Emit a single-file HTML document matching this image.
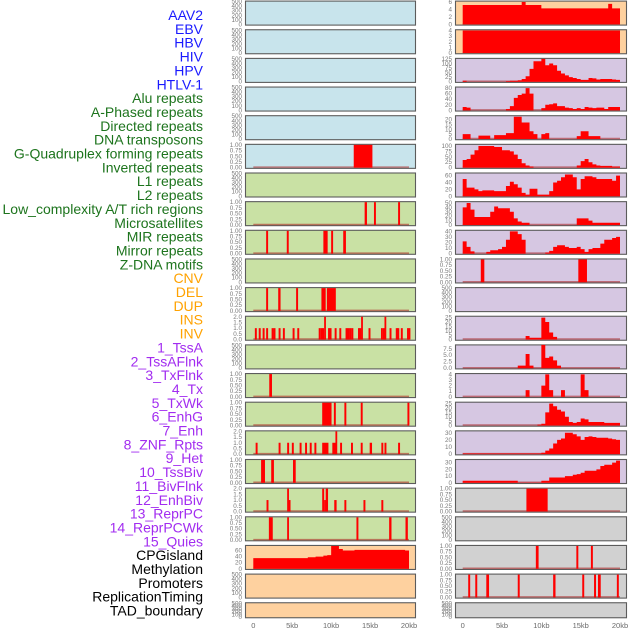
<!DOCTYPE html>
<html><head><meta charset="utf-8"><style>
html,body{margin:0;padding:0;background:#fff;width:630px;height:630px;overflow:hidden}
svg{display:block}
</style></head><body>
<svg id="chart" width="630" height="630" xmlns="http://www.w3.org/2000/svg" font-family="Liberation Sans, sans-serif"></svg>
<script>
const labels = ["AAV2","EBV","HBV","HIV","HPV","HTLV-1","Alu repeats","A-Phased repeats","Directed repeats","DNA transposons","G-Quadruplex forming repeats","Inverted repeats","L1 repeats","L2 repeats","Low_complexity A/T rich regions","Microsatellites","MIR repeats","Mirror repeats","Z-DNA motifs","CNV","DEL","DUP","INS","INV","1_TssA","2_TssAFlnk","3_TxFlnk","4_Tx","5_TxWk","6_EnhG","7_Enh","8_ZNF_Rpts","9_Het","10_TssBiv","11_BivFlnk","12_EnhBiv","13_ReprPC","14_ReprPCWk","15_Quies","CPGisland","Methylation","Promoters","ReplicationTiming","TAD_boundary"];
const labelGroups = ["v","v","v","v","v","v","r","r","r","r","r","r","r","r","r","r","r","r","r","c","c","c","c","c","h","h","h","h","h","h","h","h","h","h","h","h","h","h","h","o","o","o","o","o"];
const xTicks = [0,5,10,15,20];
const xTickLabels = ["0","5kb","10kb","15kb","20kb"];
// Tick sets
const ticksEmpty = [0,100,200,300,400,500];
const ticksUnit = [0,0.25,0.5,0.75,1];
const ticksTwo = [0,0.5,1,1.5,2];
// Left column line/event tracks: [startKb, endKb, value]
const evHTLV = [[12.9,15.3,1]];
const evAPhased = [[14.3,14.6,1],[15.5,15.75,1],[18.6,18.85,1]];
const evDirected = [[1.65,1.9,1],[4.3,4.55,1],[9.0,9.55,1],[10.0,10.25,1],[11.55,11.9,1]];
const evGQuad = [[1.65,1.9,1],[3.2,3.5,1],[5.5,5.75,1],[8.75,9.3,1],[9.45,10.6,1]];
const evInverted = [[0.2,0.45,1],[0.7,0.95,1],[1.2,1.45,1],[1.65,1.9,1],[2.35,2.6,1],[2.6,2.85,1],[3.25,3.5,1],[3.8,4.05,1],[5.05,5.3,1],[5.65,5.9,1],[8.4,8.65,1],[8.65,8.9,1],[8.85,9.1,1],[9.1,9.3,2],[9.6,9.85,1],[9.8,10.05,1],[10.45,10.7,1],[11.05,11.3,1],[11.85,12.1,1],[12.1,12.35,1],[12.35,12.6,1],[12.6,12.85,1],[13.45,13.7,1],[13.65,13.85,1],[13.85,14.05,2],[14.8,15.05,1],[16.4,16.65,1],[16.65,16.85,1],[16.85,17.05,2],[17.5,17.75,1],[18.3,18.55,1],[18.5,18.75,1],[18.95,19.2,1],[19.75,19.95,1],[19.95,20.15,1]];
const evL2 = [[2.05,2.4,1]];
const evLowCx = [[8.85,10.05,1],[10.35,10.6,1],[11.7,11.95,1],[13.8,14.05,1],[19.8,20.05,1]];
const evMicro = [[0.3,0.55,1],[3.25,3.5,1],[4.35,4.6,1],[4.95,5.2,1],[5.95,6.2,1],[6.65,6.9,1],[7.25,7.5,1],[7.85,8.1,1],[8.85,9.65,1],[10.15,10.7,1],[10.55,10.75,2],[11.15,11.4,1],[12.55,12.8,1],[13.8,14.05,1],[14.95,15.25,1],[16.45,16.7,1],[16.85,17.1,1],[18.6,18.85,1]];
const evMIR = [[1.0,1.5,1],[2.3,2.65,1],[5.1,5.45,1]];
const evMirror = [[1.7,1.95,1],[4.35,4.55,2],[4.55,4.7,1],[8.85,9.1,2],[9.1,9.3,1],[9.3,9.6,2],[10.4,10.7,1],[11.7,11.95,1],[14.15,14.4,1],[16.45,16.7,1]];
const evZDNA = [[2.0,2.5,1],[4.35,4.55,1],[13.25,13.5,1],[17.45,17.75,1],[19.55,19.85,1]];
// Right column event tracks
const evZNF = [[2.3,2.75,1],[14.7,15.8,1]];
const evCpG = [[8.1,10.8,1]];
const evPromoters = [[9.3,9.65,1],[14.45,14.7,1],[16.3,16.55,1]];
const evRepTiming = [[0.7,0.95,1],[1.6,1.85,1],[3.0,3.35,1],[7.0,7.25,1],[11.5,11.8,1],[15.2,15.45,1],[16.7,16.95,1],[17.2,17.55,1],[19.6,19.85,1]];
// Area tracks: values per 0.5kb bin (40 bins, 0-20kb)
const areaCNV = [35,35,35,35,35,35,35,35,35,35,35,35,35,35,38,38,40,40,43,45,75,75,65,60,60,60,62,62,62,62,62,62,62,62,62,62,62,62,62,60];
const areaINS = [5.2,5.2,5.2,5.2,5.2,5.2,5.2,5.2,5.2,5.2,5.2,5.2,5.2,5.2,5.2,6,5.2,5.2,5.2,5.2,4.3,4.3,4.3,4.3,4.3,4.3,4.3,4.3,4.3,4.3,4.3,4.3,4.3,4.3,4.3,4.3,4.3,5.5,4.3,4.3];
const areaINV = [4,4,4,4,4,4,4,4,4,4,4,4,4,4,4,4,4,4,4,4,4,4,4,4,4,4,4,4,4,4,4,4,4,4,4,4,4,4,4,4];
const areaTssA = [5,0,0,0,0,0,0,0,0,0,0,3,5,5,8,15,30,70,112,112,125,90,100,90,60,45,35,25,20,15,10,10,20,18,12,15,15,15,12,10];
const areaTssAFlnk = [12,10,0,0,0,0,0,0,0,0,0,5,15,45,55,60,80,60,0,0,8,20,22,25,15,15,10,8,5,8,5,12,10,8,10,10,5,12,12,12];
const areaTxFlnk = [5,5,0,0,3.5,3.5,3.5,0,4,4,4,6,6,23,23,17,17,8,5,0,5,6,0,0,0,0,0,0,0,3,8,8,3,3,3,0,0,0,0,0];
const areaTx = [35,40,60,80,100,100,100,100,95,95,80,80,75,60,40,20,10,5,0,0,0,0,0,0,0,0,0,0,0,10,30,40,25,15,10,8,8,8,5,5];
const areaTxWk = [50,25,25,20,15,17,17,17,15,15,15,30,42,35,25,10,5,22,22,5,5,5,15,40,45,55,63,63,55,20,50,58,58,55,50,50,50,50,45,60];
const areaEnhG = [40,50,35,18,18,18,18,30,42,38,38,38,30,15,8,5,5,0,0,0,0,0,0,0,0,0,0,0,0,15,15,15,10,5,5,5,5,5,5,5];
const areaEnh = [22,12,4,0,0,0,3,6,6,8,12,25,40,40,35,25,0,0,0,0,0,2,5,12,15,15,12,10,10,12,8,3,8,10,10,18,25,25,28,30];
const areaTssBiv = [0,0,0,0,0,0,0,0,0,0,0,0,0,0,0,0,4,2,2,2,25,20,8,3,0,0,0,0,0,0,0,0,0,0,0,0,0,0,0,0];
const areaBivFlnk = [0,0,0,0,0,0,0,0,0,0,0,0,0,0,1,1,5.5,1,0,0,9,4,4.5,3,1,0,0,0,0,0,0,0,0,0,0,0,0,0,0,0];
const areaEnhBiv = [0,0,0,0,0,0,0,0,0,0,0,0,0,0,0,0,1.2,0,0,0,2,4,1.2,0,0,1.2,0,0,0,0,4,1.2,0,0,0,0,0,0,0,0];
const areaReprPC = [0,0,0,0,0,0,0,0,0,0,0,0,0,0,0,0,0,0,0,1,2,15,25,22,18,16,10,4,3,4,8,7,4,4,4,4,3,3,3,3];
const areaReprPCWk = [1,1,1,1,1,1,1,1,1,1,1,1,1,1,1,1,1,1,1,1,2,5,8,15,20,22,30,30,28,25,20,24,25,24,23,23,23,22,21,20];
const areaQuies = [3,3,3,3,3,3,3,3,3,3,3,3,3,3,0.5,0.5,0.5,0.5,0.5,0.5,3,3,8,8,8,8,10,10,12,13,15,18,18,18,20,25,27,27,30,33];

const bg = {v:"#c8e4ec",r:"#c9e1a4",c:"#fed19f",h:"#d6c7e2",o:"#d1d1d1"};
const labelColor = {v:"#1a1aff",r:"#1d741d",c:"#ffa200",h:"#a22cf0",o:"#000"};

// panel specs: [col,row,group,kind,data,max,ticks,tickLabels]
function fmt(t,d){return t.toFixed(d);}
const panels = [
 [0,0,"v","empty"],[0,1,"v","empty"],[0,2,"v","empty"],[0,3,"v","empty"],[0,4,"v","empty"],
 [0,5,"v","ev",evHTLV,"unit"],
 [0,6,"r","empty"],[0,7,"r","ev",evAPhased,"unit"],[0,8,"r","ev",evDirected,"unit"],[0,9,"r","empty"],
 [0,10,"r","ev",evGQuad,"unit"],[0,11,"r","ev",evInverted,"two"],[0,12,"r","empty"],[0,13,"r","ev",evL2,"unit"],
 [0,14,"r","ev",evLowCx,"unit"],[0,15,"r","ev",evMicro,"two"],[0,16,"r","ev",evMIR,"unit"],[0,17,"r","ev",evMirror,"two"],
 [0,18,"r","ev",evZDNA,"unit"],
 [0,19,"c","area",areaCNV,75,[0,20,40,60],0],[0,20,"c","empty"],[0,21,"c","empty"],
 [1,0,"c","area",areaINS,6.1,[0,2,4,6],0],[1,1,"c","area",areaINV,4.05,[0,1,2,3,4],0],
 [1,2,"h","area",areaTssA,125,[0,25,50,75,100,125],0],[1,3,"h","area",areaTssAFlnk,82,[0,20,40,60,80],0],
 [1,4,"h","area",areaTxFlnk,23.5,[0,5,10,15,20],0],[1,5,"h","area",areaTx,105,[0,25,50,75,100],0],
 [1,6,"h","area",areaTxWk,66,[0,20,40,60],0],[1,7,"h","area",areaEnhG,52,[0,10,20,30,40,50],0],
 [1,8,"h","area",areaEnh,41,[0,10,20,30,40],0],[1,9,"h","ev",evZNF,"unit"],[1,10,"h","empty"],
 [1,11,"h","area",areaTssBiv,26,[0,5,10,15,20,25],0],[1,12,"h","area",areaBivFlnk,8.8,[0,2.5,5,7.5],1],
 [1,13,"h","area",areaEnhBiv,4.05,[0,1,2,3,4],0],[1,14,"h","area",areaReprPC,26,[0,5,10,15,20,25],0],
 [1,15,"h","area",areaReprPCWk,32,[0,10,20,30],0],[1,16,"h","area",areaQuies,34,[0,10,20,30],0],
 [1,17,"o","ev",evCpG,"unit"],[1,18,"o","empty"],[1,19,"o","ev",evPromoters,"unit"],[1,20,"o","ev",evRepTiming,"unit"],[1,21,"o","empty"]
];
const cols = [{x0:245,x1:416,k0:253.3,k20:409},{x0:455,x1:627,k0:462.7,k20:620}];
const svg = document.getElementById('chart');
const NS = "http://www.w3.org/2000/svg";
function mk(tag,attrs,parent){const e=document.createElementNS(NS,tag);for(const k in attrs)e.setAttribute(k,attrs[k]);(parent||svg).appendChild(e);return e;}

// labels
labels.forEach((t,i)=>{
  const e = mk('text',{x:203,y:(20+i*13.85).toFixed(1),'text-anchor':'end','font-size':'14',fill:labelColor[labelGroups[i]]});
  
  
  e.textContent = t;
});

panels.forEach(p=>{
  const [ci,row,grp,kind] = p;
  const c = cols[ci];
  const top = 0.6 + row*28.65;
  const h = row===21 ? 16 : 25;
  const g = mk('g',{});
  
  
  const r = mk('rect',{x:c.x0+0.5,y:top+0.5,width:c.x1-c.x0-1,height:h-1,fill:bg[grp],stroke:"#5c5c5c",'stroke-width':1.1},g);
  
  
  const y0 = top + h - 1.2, y1 = top + 1;
  let max, ticks, tl;
  if(kind==="empty"){max=500;ticks=ticksEmpty;tl=ticks.map(String);}
  else if(kind==="ev"){ if(p[5]==="two"){max=2;ticks=ticksTwo;tl=ticks.map(t=>fmt(t,1));} else {max=1;ticks=ticksUnit;tl=ticks.map(t=>fmt(t,2));} }
  else {max=p[5];ticks=p[6];tl=ticks.map(t=>p[7]?fmt(t,1):String(t));}
  const ys = v => y0 - (v/max)*(y0-y1);
  const xs = k => c.k0 + (k/20)*(c.k20-c.k0);
  ticks.forEach((t,i)=>{
    const e = mk('text',{x:c.x0-3,y:(ys(t)+2).toFixed(1),'text-anchor':'end','font-size':'6.3',fill:'#7a7a7a'},g);
    
    
    e.textContent = tl[i];
  });
  if(kind!=="empty"){
    const bl = mk('line',{x1:xs(0),x2:xs(20),y1:y0-0.5,y2:y0-0.5,stroke:'rgba(170,30,30,0.55)','stroke-width':1.5},g);
    
    
  }
  if(kind==="ev"){
    p[4].forEach(ev=>{
      const b = mk('rect',{x:xs(ev[0]).toFixed(2),y:ys(ev[2]).toFixed(2),width:Math.max(1.8,xs(ev[1])-xs(ev[0])).toFixed(2),height:(y0-ys(ev[2])).toFixed(2),fill:'#ff0000'},g);
      
      
    });
  } else if(kind==="area"){
    const vals = p[4];
    let d = `M${xs(0).toFixed(2)},${y0}`;
    vals.forEach((v,i)=>{
      d += ` L${xs(i*0.5).toFixed(2)},${ys(v).toFixed(2)} L${xs((i+1)*0.5).toFixed(2)},${ys(v).toFixed(2)}`;
    });
    d += ` L${xs(vals.length*0.5).toFixed(2)},${y0} Z`;
    const a = mk('path',{d:d,fill:'#ff0000'},g);
    
    
  }
});

cols.forEach(c=>{
  xTicks.forEach((t,i)=>{
    const e = mk('text',{x:(c.k0+(t/20)*(c.k20-c.k0)).toFixed(1),y:628,'text-anchor':'middle','font-size':'7.5',fill:'#6a6a6a'});
    
    
    e.textContent = xTickLabels[i];
  });
});
</script>
</body></html>
